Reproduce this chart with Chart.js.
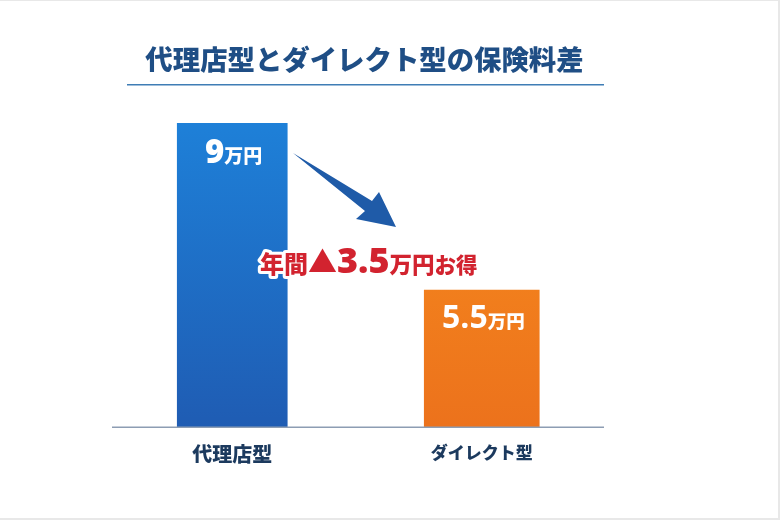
<!DOCTYPE html>
<html lang="ja">
<head>
<meta charset="utf-8">
<style>
  html, body { margin: 0; padding: 0; background: #fff; }
  canvas { display: block; }
</style>
<script src="https://cdn.jsdelivr.net/npm/chart.js@4/dist/chart.umd.min.js"></script>
</head>
<body>
<canvas id="chart" width="780" height="520"></canvas>
<script>
const categories = ['代理店型', 'ダイレクト型'];
const agencyValues = [9, null];
const directValues = [null, 5.5];
const unit = '万円';
const titleText = '代理店型とダイレクト型の保険料差';
const savingLabel = '年間';
const savingMark = '▲';
const savingValue = '3.5';
const savingSuffix = 'お得';

const FONT = '"Noto Sans CJK JP", "Noto Sans", sans-serif';
const NUM_FONT = '"Open Sans", ' + FONT;

function barGradient(top, bottom) {
  return (c) => {
    const area = c.chart.chartArea;
    if (!area) return top;
    const g = c.chart.ctx.createLinearGradient(0, area.top, 0, area.bottom);
    g.addColorStop(0, top);
    g.addColorStop(1, bottom);
    return g;
  };
}

// draw a row of [text, font] runs, left to right
function drawRun(ctx, x, y, runs, fill, halo) {
  ctx.textBaseline = 'alphabetic';
  ctx.textAlign = 'left';
  let cx = x;
  if (halo) {
    let hx = x;
    ctx.lineJoin = 'round';
    ctx.lineWidth = halo;
    ctx.strokeStyle = '#fff';
    runs.forEach(([text, font]) => {
      ctx.font = font;
      ctx.strokeText(text, hx, y);
      hx += ctx.measureText(text).width;
    });
  }
  runs.forEach(([text, font]) => {
    ctx.font = font;
    ctx.fillStyle = fill;
    ctx.fillText(text, cx, y);
    cx += ctx.measureText(text).width;
  });
}

const overlay = {
  id: 'overlay',
  afterDatasetsDraw(chart) {
    const { ctx } = chart;
    const base = chart.scales.y.bottom;
    ctx.save();

    // faint frame of the picture
    ctx.fillStyle = '#e8e8e8';
    ctx.fillRect(0, 0, 780, 1);
    ctx.fillRect(778, 0, 2, 520);
    ctx.fillRect(0, 518, 780, 2);

    // heading and rule
    ctx.font = '900 27.4px ' + FONT;
    ctx.fillStyle = '#1f4e85';
    ctx.textAlign = 'center';
    ctx.textBaseline = 'alphabetic';
    ctx.fillText(titleText, 364.5, 70);
    ctx.fillStyle = '#3f7db5';
    ctx.fillRect(127, 84, 477, 1.5);

    // baseline
    ctx.fillStyle = '#8d9db3';
    ctx.fillRect(112, base - 0.5, 492, 1.5);

    // value labels on the bars
    drawRun(ctx, 205, 163, [[String(agencyValues[0]), '800 33px ' + NUM_FONT], [unit, '900 19px ' + FONT]], '#fff');
    drawRun(ctx, 442, 328, [[String(directValues[1]), '700 32px ' + NUM_FONT], [unit, '900 18.5px ' + FONT]], '#fff');

    // arrow
    ctx.fillStyle = '#1f5ba8';
    ctx.beginPath();
    ctx.moveTo(293, 153);
    ctx.lineTo(372, 201);
    ctx.lineTo(379, 192);
    ctx.lineTo(396, 227);
    ctx.lineTo(356, 219);
    ctx.lineTo(365, 211);
    ctx.closePath();
    ctx.fill();

    // saving callout
    drawRun(ctx, 260, 273, [
      [savingLabel, '900 24px ' + FONT],
      [savingMark, '900 29px ' + FONT],
      [savingValue, '800 36px ' + NUM_FONT],
      [unit, '900 22.5px ' + FONT],
      [savingSuffix, '900 21.5px ' + FONT],
    ], '#d2232f', 6);

    ctx.restore();
  },
};

new Chart(document.getElementById('chart'), {
  type: 'bar',
  data: {
    labels: categories,
    datasets: [
      { data: agencyValues, barThickness: 110, backgroundColor: barGradient('#1e80d8', '#1f5cb3') },
      { data: directValues, barThickness: 115, backgroundColor: barGradient('#f88d1d', '#ec721c') },
    ],
  },
  options: {
    responsive: false,
    animation: false,
    layout: { padding: { top: 123, left: 107.5, right: 173.5, bottom: 0 } },
    plugins: { legend: { display: false }, tooltip: { enabled: false }, title: { display: false } },
    scales: {
      x: {
        stacked: true,
        grid: { display: false },
        border: { display: false },
        ticks: {
          color: '#1c3a5e',
          font: (c) => ({ family: FONT, size: c.index === 0 ? 20 : 17, weight: '900' }),
          padding: 7,
          maxRotation: 0,
        },
        afterFit(scale) { scale.height = 93; },
      },
      // bars in the picture start from a cut-off baseline, not from zero
      y: { display: false, stacked: false, min: 2.63, max: 9 },
    },
  },
  plugins: [overlay],
});
</script>
</body>
</html>
